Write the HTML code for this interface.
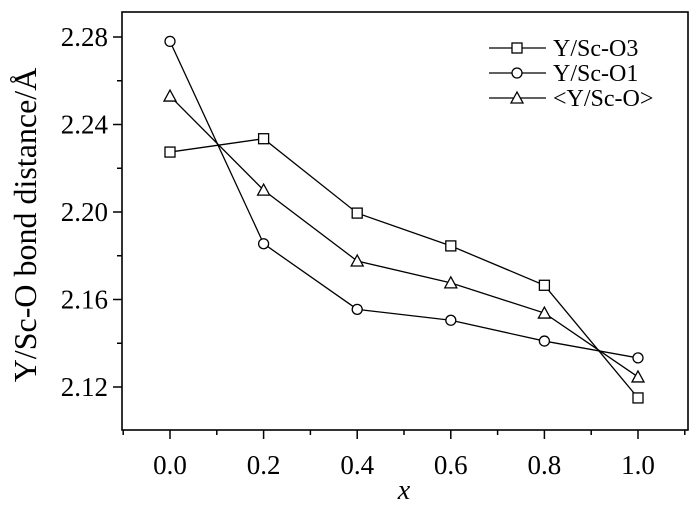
<!DOCTYPE html>
<html><head><meta charset="utf-8"><style>
body{margin:0;background:#fff}
svg text{font-family:"Liberation Serif",serif;fill:#000}
</style></head><body>
<svg id="chart" width="700" height="502" xmlns="http://www.w3.org/2000/svg"></svg>
<script>
const xValues=[0.0,0.2,0.4,0.6,0.8,1.0];
const seriesO3=[2.2274,2.2335,2.1995,2.1845,2.1665,2.115];
const seriesO1=[2.278,2.1855,2.1555,2.1505,2.141,2.1333];
const seriesAvg=[2.253,2.210,2.1776,2.1676,2.1538,2.1246];
const xTicks=["0.0","0.2","0.4","0.6","0.8","1.0"];
const yTicks=["2.12","2.16","2.20","2.24","2.28"];
const seriesNames=["Y/Sc-O3","Y/Sc-O1","<Y/Sc-O>"];
const svg=document.getElementById('chart');
const NS='http://www.w3.org/2000/svg';
function mk(t,a,parent){const e=document.createElementNS(NS,t);for(const k in a)e.setAttribute(k,a[k]);(parent||svg).appendChild(e);return e;}
const L=122,R=688,T=12,B=430;
function X(v){return 170+v*468;}
function Y(v){return 387-(v-2.12)/0.16*350;}
let e;
e=mk('rect',{x:L,y:T,width:R-L,height:B-T,fill:'none',stroke:'#000','stroke-width':1.6});


for(let i=0;i<xTicks.length;i++){const v=parseFloat(xTicks[i]);
 e=mk('line',{x1:X(v),x2:X(v),y1:B,y2:B+9,stroke:'#000','stroke-width':1.5});
 
 
 e=mk('text',{x:X(v),y:B+44,'text-anchor':'middle','font-size':27});e.textContent=xTicks[i];
 
 }
for(let v=-0.1;v<1.15;v+=0.2){e=mk('line',{x1:X(v),x2:X(v),y1:B,y2:B+5,stroke:'#000','stroke-width':1.5});
 
 }
for(let i=0;i<yTicks.length;i++){const v=parseFloat(yTicks[i]);
 e=mk('line',{x1:L-9,x2:L,y1:Y(v),y2:Y(v),stroke:'#000','stroke-width':1.5});
 
 
 e=mk('text',{x:L-14,y:Y(v)+9,'text-anchor':'end','font-size':27});e.textContent=yTicks[i];
 
 }
for(let v=2.10;v<2.30;v+=0.04){const y=Y(v);if(y<T||y>B)continue;
 e=mk('line',{x1:L-5,x2:L,y1:y,y2:y,stroke:'#000','stroke-width':1.5});
 
 }
e=mk('text',{x:X(0.5),y:499,'text-anchor':'middle','font-size':28,'font-style':'italic'});e.textContent='x';


e=mk('text',{x:0,y:0,'text-anchor':'middle','font-size':32,transform:'translate(36,225) rotate(-90)'});e.textContent='Y/Sc-O bond distance/Å';


function marker(type,cx,cy,g){
 if(type==='square')return mk('rect',{x:cx-5,y:cy-5,width:10,height:10,fill:'#fff',stroke:'#000','stroke-width':1.3},g);
 if(type==='circle')return mk('circle',{cx:cx,cy:cy,r:5,fill:'#fff',stroke:'#000','stroke-width':1.3},g);
 return mk('polygon',{points:`${cx},${cy-6} ${cx-6},${cy+5} ${cx+6},${cy+5}`,fill:'#fff',stroke:'#000','stroke-width':1.3},g);
}
const all=[seriesO3,seriesO1,seriesAvg];const types=['square','circle','triangle'];const names=['series-o3','series-o1','series-average'];
for(let s=0;s<3;s++){const g=mk('g',{});
 
 
 e=mk('polyline',{points:xValues.map((x,i)=>X(x)+','+Y(all[s][i])).join(' '),fill:'none',stroke:'#000','stroke-width':1.3},g);
 
 
 xValues.forEach((x,i)=>{e=marker(types[s],X(x),Y(all[s][i]),g);
 
 });}
for(let s=0;s<3;s++){const y=48+s*25;const g=mk('g',{});
 
 
 mk('line',{x1:489,x2:546,y1:y,y2:y,stroke:'#000','stroke-width':1.3},g);
 marker(types[s],517,y,g);
 e=mk('text',{x:553,y:y+8,'font-size':24},g);e.textContent=seriesNames[s];}
</script>
</body></html>
